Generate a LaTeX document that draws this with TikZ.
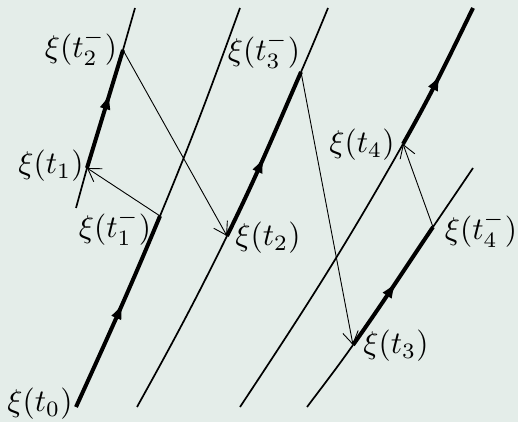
\documentclass[tikz,border=0pt]{standalone}
\usetikzlibrary{arrows.meta,decorations.markings}
\definecolor{bgc}{RGB}{228,237,233}
\tikzset{
  thinl/.style={line width=0.85pt},
  thickl/.style={line width=2pt},
  conn/.style={line width=0.45pt,-{Straight Barb[length=6.2pt,width=7.8pt,line width=0.45pt]}},
  midarrow/.style={postaction={decorate},decoration={markings,
      mark=at position #1 with {\arrow{Latex[length=8.5pt,width=5.6pt]}}}},
  lab/.style={inner sep=0pt,scale=1.57},
}
\begin{document}
\begin{tikzpicture}[x=0.5pt,y=0.5pt]
\fill[bgc] (0,0) rectangle (518,422);
\useasboundingbox (0,0) rectangle (518,422);
% points
\coordinate (a1b) at (76,214);
\coordinate (p1) at (87,254);
\coordinate (q2) at (123,372);
\coordinate (a1t) at (135,414);
\coordinate (p0) at (76,15);
\coordinate (q1) at (160,206);
\coordinate (b2t) at (240,414);
\coordinate (c3b) at (137,15);
\coordinate (p2) at (227,186);
\coordinate (q3) at (301,350);
\coordinate (c3t) at (328,414);
\coordinate (d4b) at (240,15);
\coordinate (p4) at (403,278);
\coordinate (d4t) at (473,414);
\coordinate (e5b) at (307,15);
\coordinate (p3) at (353,77);
\coordinate (q4) at (433,195);
\coordinate (e5t) at (473,254);
% line 1
\draw[thinl] (a1b) -- (p1);
\draw[thickl,midarrow=0.64] (p1) -- (q2);
\draw[thinl] (q2) -- (a1t);
% line 2
\draw[thickl,midarrow=0.55] (p0) to[out=65.5,in=247.4] (q1);
\draw[thinl] (q1) to[out=67.4,in=250] (b2t);
% line 3
\draw[thinl] (c3b) to[out=61,in=243.8] (p2);
\draw[thickl,midarrow=0.49] (p2) to[out=63.8,in=246.4] (q3);
\draw[thinl] (q3) to[out=66.4,in=247.6] (c3t);
% line 4
\draw[thinl] (d4b) to[out=56.5,in=240.5] (p4);
\draw[thickl,midarrow=0.52] (p4) to[out=60.5,in=244] (d4t);
% line 5
\draw[thinl] (e5b) to[out=53,in=234.7] (p3);
\draw[thickl,midarrow=0.54] (p3) to[out=54.7,in=235.9] (q4);
\draw[thinl] (q4) to[out=55.9,in=236] (e5t);
% connectors
\draw[conn] (q2) -- (p2);
\draw[conn] (q1) -- (p1);
\draw[conn] (q3) -- (p3);
\draw[conn] (q4) -- (p4);
% labels
\node[lab] (l0) at (40,18) {$\xi(t_0)$};
\node[lab] (l1) at (51,256) {$\xi(t_1)$};
\node[lab] (l1m) at (115,194) {$\xi(t_1^-)$};
\node[lab] (l2) at (268,184) {$\xi(t_2)$};
\node[lab] (l2m) at (81,374) {$\xi(t_2^-)$};
\node[lab] (l3) at (396,76) {$\xi(t_3)$};
\node[lab] (l3m) at (264,371) {$\xi(t_3^-)$};
\node[lab] (l4) at (362,277) {$\xi(t_4)$};
\node[lab] (l4m) at (481,192) {$\xi(t_4^-)$};
\end{tikzpicture}
\end{document}
